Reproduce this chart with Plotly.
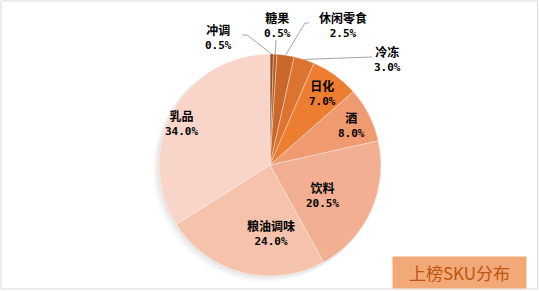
import math
import plotly.graph_objects as go

# ---- data ----
categories = ["冲调", "糖果", "休闲零食", "冷冻", "日化", "酒", "饮料", "粮油调味", "乳品"]
values = [0.5, 0.5, 2.5, 3.0, 7.0, 8.0, 20.5, 24.0, 34.0]
colors = ["#9A4A1B", "#B45A22", "#C9682B", "#DC7430", "#ED7D31",
          "#F09B6F", "#F2AF91", "#F5C3AC", "#F8D5C8"]

W, H = 539, 291
CX, CY, R = 270, 165, 111


def px(x):
    return x / W


def py(y):
    return 1 - y / H


fig = go.Figure()
fig.add_trace(go.Pie(
    labels=categories, values=values, sort=False, direction="clockwise",
    rotation=0, textinfo="none", hoverinfo="label+percent",
    marker=dict(colors=colors, line=dict(color="rgba(255,255,255,0.45)", width=0.8)),
    domain=dict(x=[px(CX - R), px(CX + R)], y=[py(CY + R), py(CY - R)]),
    showlegend=False,
))

# label positions (layout) in pixels: centre of two-line block
label_pos = {
    "冲调": (218, 36), "糖果": (277, 24), "休闲零食": (343, 24), "冷冻": (387, 59),
    "日化": (322, 92), "酒": (351, 124), "饮料": (322, 194), "粮油调味": (271, 232),
    "乳品": (181, 122),
}
# leader-line elbow points for outside labels
leader = {
    "冲调": [(247, 35), (242, 35)],
    "糖果": [(276, 40)],
    "休闲零食": [(305, 23), (309, 23)],
    "冷冻": [(372, 57)],
}

total = sum(values)
cum = 0
shapes = []
# soft shadow
for off, a in [(6, 0.025), (4, 0.035), (2, 0.04)]:
    shapes.append(dict(type="circle", xref="paper", yref="paper", layer="below",
                       x0=px(CX - R - off), x1=px(CX + R - off + 2),
                       y0=py(CY + R + off), y1=py(CY - R + off - 2),
                       line=dict(width=0), fillcolor=f"rgba(0,0,0,{a})"))

annotations = []
for cat, v in zip(categories, values):
    mid = (cum + v / 2) / total * 2 * math.pi
    cum += v
    pct = v / total * 100
    lx, ly = label_pos[cat]
    annotations.append(dict(
        x=px(lx), y=py(ly), xref="paper", yref="paper", showarrow=False,
        xanchor="center", yanchor="middle",
        text=(f"<b><span style='font-family:Noto Sans CJK SC;font-size:12px'>{cat}</span></b>"
              f"<br><b>{pct:.1f}%</b>"),
        align="center",
        font=dict(family="DejaVu Sans Mono, Noto Sans CJK SC", size=11, color="#000000"),
    ))
    if cat in leader:
        sx = CX + R * math.sin(mid)
        sy = CY - R * math.cos(mid)
        pts = [(sx, sy)] + leader[cat]
        for (x0, y0), (x1, y1) in zip(pts[:-1], pts[1:]):
            shapes.append(dict(type="line", xref="paper", yref="paper",
                               x0=px(x0), y0=py(y0), x1=px(x1), y1=py(y1),
                               line=dict(color="#A6A6A6", width=1)))

# title box
annotations.append(dict(
    x=px(459.5), y=py(272.5), xref="paper", yref="paper", showarrow=False,
    text="上榜SKU分布", width=131, height=29, bgcolor="#F3A877",
    font=dict(family="Noto Sans CJK SC", size=17, color="#BF540E"),
    xanchor="center", yanchor="middle",
))

# outer frame
shapes.append(dict(type="rect", xref="paper", yref="paper",
                   x0=px(1), x1=px(537.5), y0=py(289), y1=py(1),
                   line=dict(color="#D9D9D9", width=1)))

fig.update_layout(
    width=W, height=H, margin=dict(l=0, r=0, t=0, b=0),
    paper_bgcolor="white", plot_bgcolor="white",
    shapes=shapes, annotations=annotations,
)

fig.write_html("out.html")
